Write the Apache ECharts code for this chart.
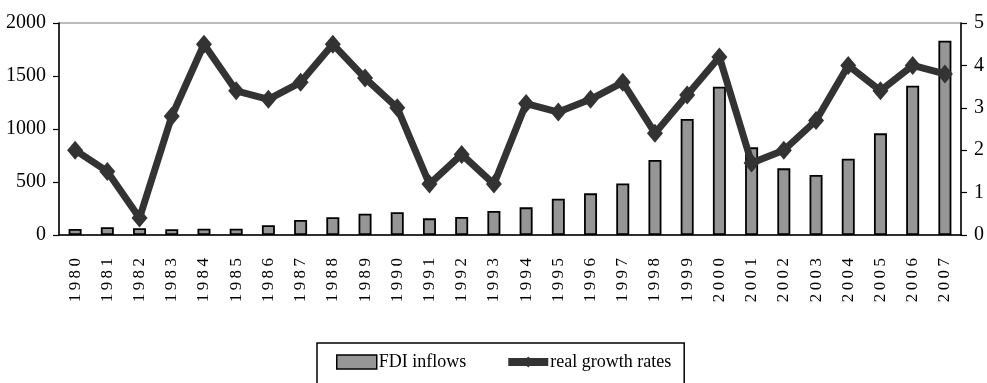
<!DOCTYPE html>
<html>
<head>
<meta charset="utf-8">
<script src="https://cdn.jsdelivr.net/npm/echarts@6/dist/echarts.min.js"></script>
<style>
  html, body { margin: 0; padding: 0; background: #fff; }
  #chart { width: 987px; height: 383px; }
</style>
</head>
<body>
<div id="chart"></div>
<script>
// Years on the category axis
const years = ['1980','1981','1982','1983','1984','1985','1986','1987','1988','1989',
  '1990','1991','1992','1993','1994','1995','1996','1997','1998','1999',
  '2000','2001','2002','2003','2004','2005','2006','2007'];

// FDI inflows (left axis)
const fdiInflows = [57, 73, 63, 54, 60, 60, 92, 142, 167, 201,
  214, 157, 170, 226, 261, 343, 393, 487, 708, 1094,
  1399, 827, 629, 566, 720, 959, 1409, 1833];

// Real growth rates (right axis)
const growthRates = [2.0, 1.5, 0.4, 2.8, 4.5, 3.4, 3.2, 3.6, 4.5, 3.7,
  3.0, 1.2, 1.9, 1.2, 3.1, 2.9, 3.2, 3.6, 2.4, 3.3,
  4.2, 1.7, 2.0, 2.7, 4.0, 3.4, 4.0, 3.8];

// Tick values
const leftTicks = [0, 500, 1000, 1500, 2000];
const rightTicks = [0, 1, 2, 3, 4, 5];

const serif = '"Liberation Serif", "Times New Roman", serif';
const chart = echarts.init(document.getElementById('chart'), null, { renderer: 'canvas' });

chart.setOption({
  animation: false,
  backgroundColor: '#fff',
  grid: {
    left: 59, right: 21, top: 23, bottom: 148,
    show: true, borderColor: '#777', borderWidth: 1, backgroundColor: 'transparent'
  },
  legend: {
    left: 317, top: 343,
    padding: [10, 13, 20, 19],
    itemGap: 38,
    itemWidth: 40, itemHeight: 14,
    borderColor: '#000', borderWidth: 1.5,
    textStyle: { fontFamily: serif, fontSize: 18, color: '#000', padding: [0, 0, 0, -3] },
    data: [
      { name: 'FDI inflows', icon: 'rect', itemStyle: { borderWidth: 1.5, borderColor: '#000' } },
      { name: 'real growth rates', lineStyle: { width: 8, color: '#333' } }
    ]
  },
  xAxis: [
    {
      type: 'category', data: years, position: 'bottom',
      axisLine: { lineStyle: { color: '#000', width: 1.5 } },
      axisTick: { interval: 0, length: 8, lineStyle: { color: '#000', width: 1.2 } },
      axisLabel: {
        interval: 0, rotate: 90, margin: 23,
        fontFamily: serif, fontSize: 17, color: '#000',
        formatter: v => v.split('').join('\u2009')
      }
    },
    {
      // inner half of the crossing category ticks
      type: 'category', data: years, position: 'bottom',
      axisLine: { show: false },
      axisTick: { inside: true, interval: 0, length: 7, lineStyle: { color: '#000', width: 1.2 } },
      axisLabel: { show: false }
    }
  ],
  yAxis: [
    {
      type: 'value', min: leftTicks[0], max: leftTicks[leftTicks.length - 1], interval: 500,
      position: 'left',
      splitLine: { show: false },
      axisLine: { show: true, lineStyle: { color: '#000', width: 1.5 } },
      axisTick: { show: true, length: 6, lineStyle: { color: '#000', width: 1.2 } },
      axisLabel: { margin: 13, fontFamily: serif, fontSize: 20, color: '#000', formatter: v => String(v) }
    },
    {
      type: 'value', min: rightTicks[0], max: rightTicks[rightTicks.length - 1], interval: 1,
      position: 'right',
      splitLine: { show: false },
      axisLine: { show: true, lineStyle: { color: '#000', width: 1.5 } },
      axisTick: { show: true, length: 6, lineStyle: { color: '#000', width: 1.2 } },
      axisLabel: { margin: 13, fontFamily: serif, fontSize: 20, color: '#000', formatter: v => String(v) }
    }
  ],
  series: [
    {
      name: 'FDI inflows', type: 'bar', data: fdiInflows,
      xAxisIndex: 0, yAxisIndex: 0,
      barWidth: 13,
      itemStyle: { color: '#969696', borderColor: '#000', borderWidth: 1.8 }
    },
    {
      name: 'real growth rates', type: 'line', data: growthRates,
      xAxisIndex: 0, yAxisIndex: 1,
      symbol: 'diamond', symbolSize: [16, 19],
      lineStyle: { color: '#333', width: 7 },
      itemStyle: { color: '#333' }
    }
  ]
});
</script>
</body>
</html>
